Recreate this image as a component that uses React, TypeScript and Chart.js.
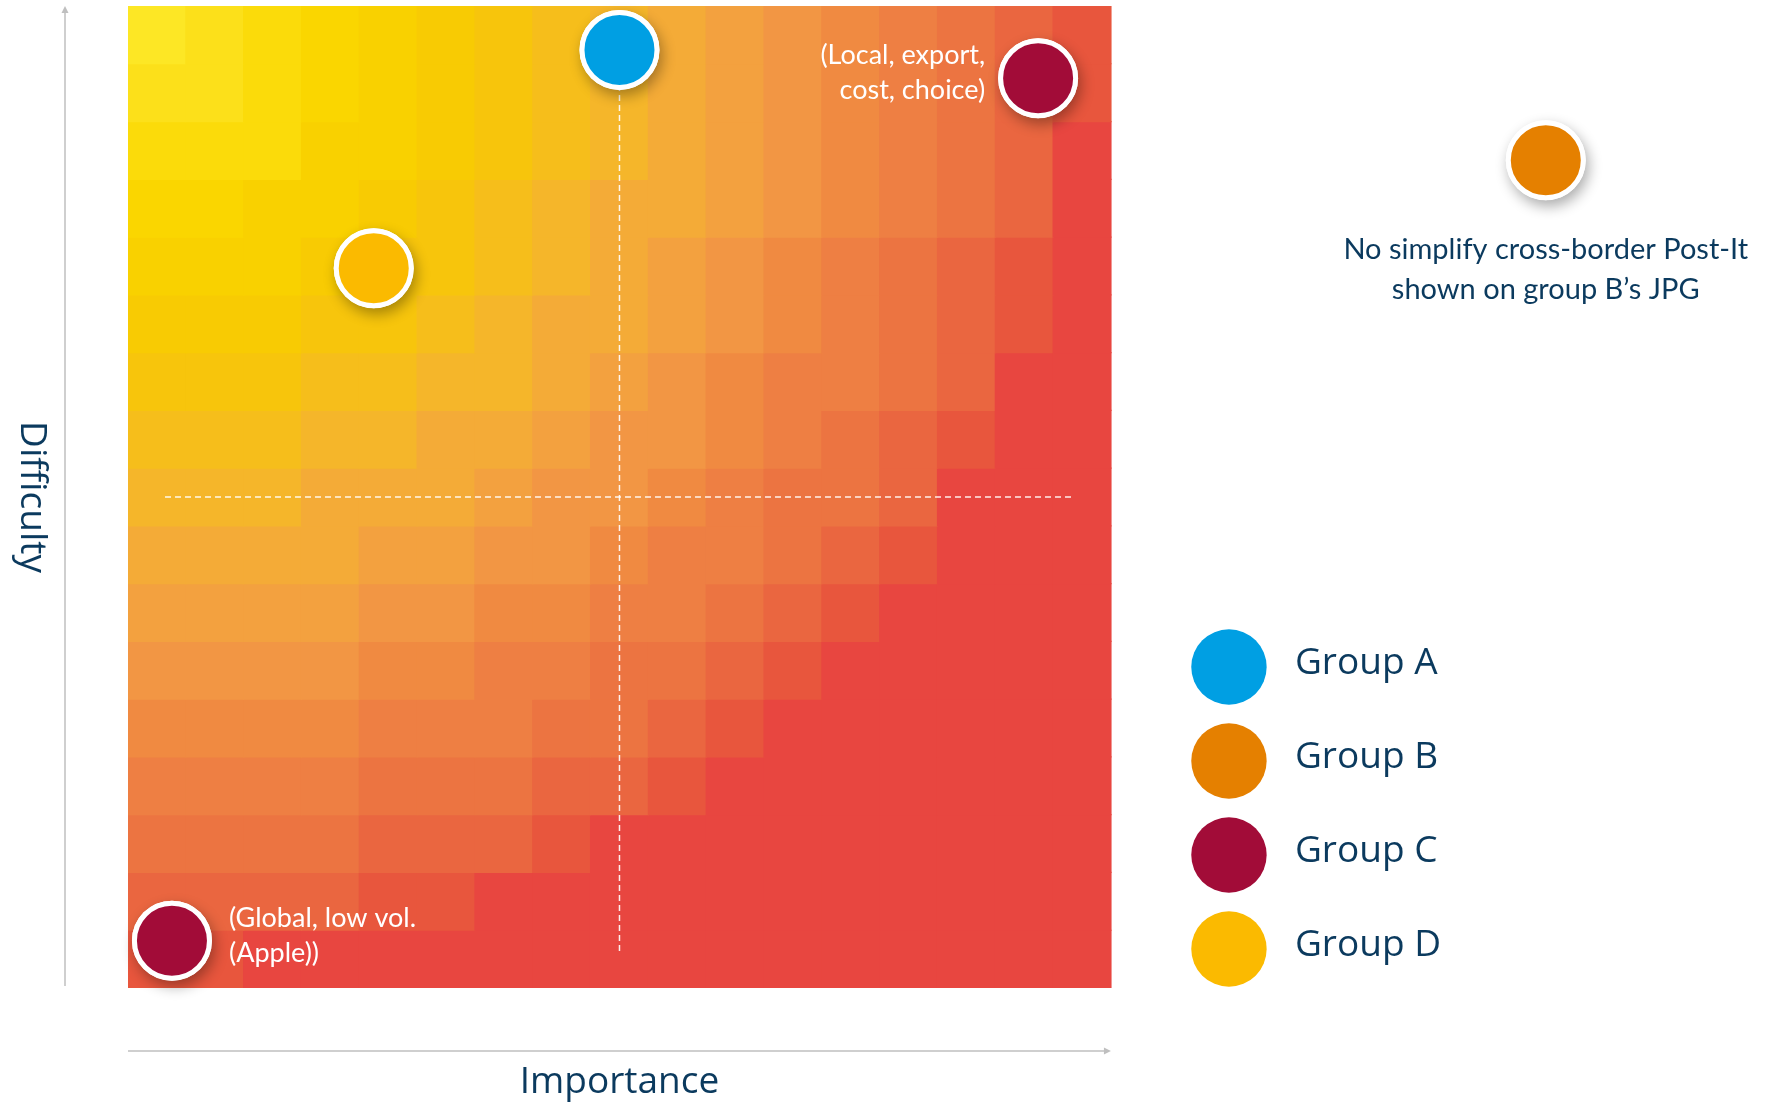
import { useEffect, useRef } from 'react';
import { Chart, registerables } from 'chart.js';

Chart.register(...registerables);

// ---------------- data ----------------
const importanceTitle = 'Importance';
const difficultyTitle = 'Difficulty';

const groupNames = ['Group A', 'Group B', 'Group C', 'Group D'];
const groupColors = ['#009FE3', '#E58000', '#A20C38', '#FBBA00'];

// plotted post-its (importance / difficulty in grid-cell units)
const pointGroups = [0, 1, 2, 2, 3];
const pointImportance = [8.5, 24.52, 15.74, 0.76, 4.25];
const pointDifficulty = [16.24, 14.33, 15.75, 0.82, 12.46];
const pointNotes: string[][] = [
  [],
  ['No simplify cross-border Post-It', 'shown on group B\u2019s JPG'],
  ['(Local, export,', 'cost, choice)'],
  ['(Global, low vol.', '(Apple))'],
  [],
];
const noteSide = ['', 'below', 'left', 'right', ''];

// background heat grid: 17 x 17 cells, rows listed top to bottom, level index into levelColors
const heatLevels: number[][] = [
  [0, 1, 2, 3, 4, 5, 6, 7, 8, 9, 10, 11, 12, 13, 14, 15, 16],
  [1, 1, 2, 3, 4, 5, 6, 7, 8, 9, 10, 11, 12, 13, 14, 15, 16],
  [2, 2, 2, 4, 4, 5, 6, 7, 8, 9, 10, 11, 12, 13, 14, 15, 17],
  [3, 3, 4, 4, 5, 6, 7, 8, 9, 9, 10, 11, 12, 13, 14, 15, 17],
  [4, 4, 4, 5, 6, 6, 7, 8, 9, 10, 11, 12, 13, 14, 15, 16, 17],
  [5, 5, 5, 6, 6, 7, 8, 9, 9, 10, 11, 12, 13, 14, 15, 16, 17],
  [6, 6, 6, 7, 7, 8, 8, 9, 10, 11, 12, 13, 13, 14, 15, 17, 17],
  [7, 7, 7, 8, 8, 9, 9, 10, 11, 11, 12, 13, 14, 15, 16, 17, 17],
  [8, 8, 8, 9, 9, 9, 10, 11, 11, 12, 13, 14, 14, 15, 17, 17, 17],
  [9, 9, 9, 9, 10, 10, 11, 11, 12, 13, 13, 14, 15, 16, 17, 17, 17],
  [10, 10, 10, 10, 11, 11, 12, 12, 13, 13, 14, 15, 16, 17, 17, 17, 17],
  [11, 11, 11, 11, 12, 12, 13, 13, 14, 14, 15, 16, 17, 17, 17, 17, 17],
  [12, 12, 12, 12, 13, 13, 13, 14, 14, 15, 16, 17, 17, 17, 17, 17, 17],
  [13, 13, 13, 13, 14, 14, 14, 15, 15, 16, 17, 17, 17, 17, 17, 17, 17],
  [14, 14, 14, 14, 15, 15, 15, 16, 17, 17, 17, 17, 17, 17, 17, 17, 17],
  [15, 15, 15, 15, 16, 16, 17, 17, 17, 17, 17, 17, 17, 17, 17, 17, 17],
  [16, 16, 17, 17, 17, 17, 17, 17, 17, 17, 17, 17, 17, 17, 17, 17, 17],
];
const levelColors = [
  '#FDE725', '#FCE01A', '#FBDB0A', '#FAD600', '#F9D100', '#F8CB03',
  '#F7C50C', '#F6BE1B', '#F5B62A', '#F4AB37', '#F3A13F', '#F29644',
  '#F08A41', '#EE7F43', '#EC7441', '#EA6640', '#E8563D', '#E84640',
];

const gridSize = 17;
const dividerAt = 8.5;
const dividerFrom = 0.64;
const dividerTo = 16.36;

// ---------------- styling ----------------
const NAVY = '#0B3A5E';
const AXIS_GREY = '#BFBFBF';

const pointShadowPlugin = {
  id: 'pointShadow',
  beforeDatasetDraw(chart: any, args: any) {
    const ds = chart.data.datasets[args.index];
    if (ds && ds.label === 'point-shadow') {
      const ctx = chart.ctx;
      ctx.save();
      ctx.shadowColor = 'rgba(0,0,0,0.33)';
      ctx.shadowBlur = 14;
      ctx.shadowOffsetX = 3;
      ctx.shadowOffsetY = 6;
    }
  },
  afterDatasetDraw(chart: any, args: any) {
    const ds = chart.data.datasets[args.index];
    if (ds && ds.label === 'point-shadow') chart.ctx.restore();
  },
};

const decorPlugin = {
  id: 'decor',
  afterDatasetsDraw(chart: any) {
    const { ctx } = chart;
    const xs = chart.scales.x;
    const ys = chart.scales.y;
    ctx.save();
    pointNotes.forEach((lines, i) => {
      if (!lines.length) return;
      const px = xs.getPixelForValue(pointImportance[i]);
      const py = ys.getPixelForValue(pointDifficulty[i]);
      ctx.textBaseline = 'alphabetic';
      if (noteSide[i] === 'below') {
        ctx.font = '29px Lato';
        ctx.fillStyle = NAVY;
        ctx.textAlign = 'center';
        ctx.fillText(lines[0], px, py + 99);
        ctx.fillText(lines[1], px, py + 139);
      } else {
        ctx.font = '27px Lato';
        ctx.fillStyle = '#FFFFFF';
        if (noteSide[i] === 'left') {
          ctx.textAlign = 'right';
          ctx.fillText(lines[0], px - 53, py - 14);
          ctx.fillText(lines[1], px - 53, py + 21);
        } else {
          ctx.textAlign = 'left';
          ctx.fillText(lines[0], px + 57, py - 14);
          ctx.fillText(lines[1], px + 57, py + 21);
        }
      }
    });
    ctx.restore();
  },
  afterDraw(chart: any) {
    const { ctx } = chart;
    const xs = chart.scales.x;
    const ys = chart.scales.y;
    const left = xs.getPixelForValue(0);
    const right = xs.getPixelForValue(gridSize);
    const top = ys.getPixelForValue(gridSize);
    const bottom = ys.getPixelForValue(0);
    ctx.save();

    // axis arrows
    ctx.strokeStyle = AXIS_GREY;
    ctx.fillStyle = AXIS_GREY;
    ctx.lineWidth = 1.5;
    const ax = left - 63;
    ctx.beginPath();
    ctx.moveTo(ax, bottom - 2);
    ctx.lineTo(ax, top + 6);
    ctx.stroke();
    ctx.beginPath();
    ctx.moveTo(ax, top);
    ctx.lineTo(ax - 3.5, top + 7);
    ctx.lineTo(ax + 3.5, top + 7);
    ctx.closePath();
    ctx.fill();

    const ay = bottom + 63;
    ctx.beginPath();
    ctx.moveTo(left, ay);
    ctx.lineTo(right - 6, ay);
    ctx.stroke();
    ctx.beginPath();
    ctx.moveTo(right, ay);
    ctx.lineTo(right - 7, ay - 3.5);
    ctx.lineTo(right - 7, ay + 3.5);
    ctx.closePath();
    ctx.fill();

    // axis titles
    ctx.fillStyle = NAVY;
    ctx.font = '37px "Open Sans"';
    ctx.textAlign = 'center';
    ctx.textBaseline = 'alphabetic';
    ctx.fillText(importanceTitle, (left + right) / 2, bottom + 105);
    ctx.save();
    ctx.translate(21, (top + bottom) / 2);
    ctx.rotate(Math.PI / 2);
    ctx.fillText(difficultyTitle, 0, 0);
    ctx.restore();

    // legend
    const lx = right + 118;
    groupNames.forEach((name, i) => {
      const cy = 667 + i * 94;
      ctx.beginPath();
      ctx.arc(lx, cy, 37.7, 0, Math.PI * 2);
      ctx.fillStyle = groupColors[i];
      ctx.fill();
      ctx.fillStyle = NAVY;
      ctx.font = '37px "Open Sans"';
      ctx.textAlign = 'left';
      ctx.fillText(name, lx + 66, cy + 7);
    });
    ctx.restore();
  },
};

function buildConfig(): any {
  const heatDatasets = heatLevels.map((row, r) => ({
    type: 'bar',
    label: `heat-row-${r}`,
    data: row.map((_, c) => ({ x: c + 0.5, y: [gridSize - 1 - r, gridSize - r] })),
    backgroundColor: row.map((lvl) => levelColors[lvl]),
    borderWidth: 0,
    barPercentage: 1,
    categoryPercentage: 1,
    grouped: false,
    inflateAmount: 0.6,
    order: 3,
  }));

  const pts = pointImportance.map((v, i) => ({ x: v, y: pointDifficulty[i] }));
  const ptColors = pointGroups.map((g) => groupColors[g]);

  const dividerStyle = {
    type: 'line',
    borderColor: 'rgba(255,255,255,0.9)',
    borderWidth: 1.5,
    borderDash: [6, 4],
    pointRadius: 0,
    fill: false,
    order: 2,
  };

  return {
    type: 'scatter',
    data: {
      datasets: [
        {
          type: 'scatter',
          label: 'points',
          data: pts,
          pointRadius: 37.5,
          pointBackgroundColor: ptColors,
          pointBorderColor: '#FFFFFF',
          pointBorderWidth: 5,
          clip: false,
          order: 0,
        },
        {
          type: 'scatter',
          label: 'point-shadow',
          data: pts,
          pointRadius: 40,
          pointBackgroundColor: '#FFFFFF',
          pointBorderWidth: 0,
          clip: false,
          order: 1,
        },
        {
          ...dividerStyle,
          label: 'divider-v',
          data: [
            { x: dividerAt, y: dividerFrom },
            { x: dividerAt, y: dividerTo },
          ],
        },
        {
          ...dividerStyle,
          label: 'divider-h',
          data: [
            { x: dividerFrom, y: dividerAt },
            { x: dividerTo, y: dividerAt },
          ],
        },
        ...heatDatasets,
      ],
    },
    options: {
      responsive: false,
      animation: false,
      devicePixelRatio: 1,
      events: [],
      layout: { autoPadding: false, padding: { left: 128, top: 6, right: 35, bottom: 115 } },
      scales: {
        x: { type: 'linear', min: 0, max: 28, display: false, offset: false, ticks: { stepSize: 1 } },
        y: { type: 'linear', min: 0, max: gridSize, display: false, offset: false },
      },
      plugins: {
        legend: { display: false },
        tooltip: { enabled: false },
      },
    },
    plugins: [pointShadowPlugin, decorPlugin],
  };
}

export default function App() {
  const canvasRef = useRef<HTMLCanvasElement | null>(null);
  useEffect(() => {
    const canvas = canvasRef.current;
    if (!canvas) return;
    const chart = new Chart(canvas, buildConfig());
    return () => chart.destroy();
  }, []);
  return (
    <div style={{ position: 'fixed', left: 0, top: 0, width: 1782, height: 1103, background: '#FFFFFF' }}>
      <canvas ref={canvasRef} width={1782} height={1103} style={{ display: 'block', width: 1782, height: 1103 }} />
    </div>
  );
}
